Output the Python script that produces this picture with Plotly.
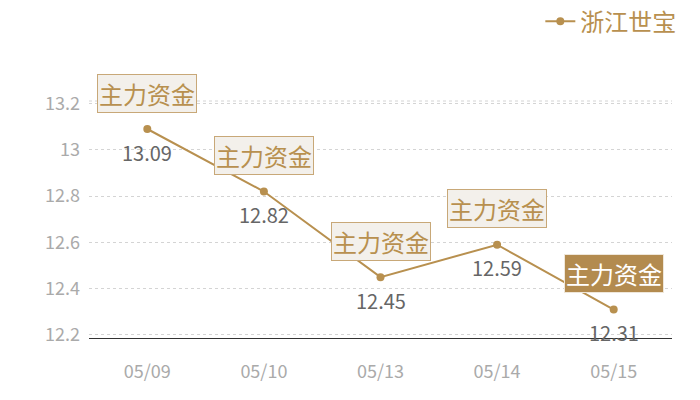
import plotly.graph_objects as go

# Closing prices for the last five trading days
dates = ['05/09', '05/10', '05/13', '05/14', '05/15']
prices = [13.09, 12.82, 12.45, 12.59, 12.31]
flag_text = ['主力资金', '主力资金', '主力资金', '主力资金', '主力资金']
tick_vals = [12.2, 12.4, 12.6, 12.8, 13, 13.2]
tick_text = ['12.2', '12.4', '12.6', '12.8', '13', '13.2']

gold = '#b8904f'
font_family = 'Noto Sans CJK SC'

fig = go.Figure()

fig.add_trace(go.Scatter(
    x=dates, y=prices, name='浙江世宝',
    mode='lines+markers',
    line=dict(color=gold, width=2),
    marker=dict(color=gold, size=8),
))

for i, (d, p) in enumerate(zip(dates, prices)):
    last = i == len(dates) - 1
    # value label under the point
    fig.add_annotation(
        x=d, y=p, text=str(p), showarrow=False, yshift=-23,
        font=dict(size=20, color='#666666', family=font_family),
    )
    # flag box above the point, the last one highlighted
    fig.add_annotation(
        x=d, y=p, text=flag_text[i],
        showarrow=False, yshift=36,
        font=dict(size=24, color='white' if last else gold, family=font_family),
        bgcolor='#b38b4f' if last else '#f3f0eb',
        bordercolor='#efe7da' if last else '#c8a878',
        borderwidth=1, borderpad=1,
    )

# the page adds an 8px body margin, so margins are shifted to compensate
fig.update_layout(
    width=700, height=400,
    margin=dict(l=81, r=36, t=93, b=70, autoexpand=False),
    plot_bgcolor='white', paper_bgcolor='white',
    font=dict(family=font_family),
    showlegend=True,
    legend=dict(x=1.016, y=1.43, xanchor='right', yanchor='top',
                font=dict(size=24, color=gold, family=font_family),
                bgcolor='rgba(0,0,0,0)'),
    xaxis=dict(
        type='category', range=[-0.5, 4.5],
        showgrid=False, showline=True, linecolor='#333333', linewidth=1,
        ticks='', tickfont=dict(size=18, color='#aaaaaa'),
        ticklabelstandoff=17,
    ),
    yaxis=dict(
        range=[12.187, 13.211],
        tickvals=tick_vals, ticktext=tick_text,
        showgrid=True, gridcolor='#d4d4d4', griddash='dot', gridwidth=1,
        zeroline=False, showline=False, ticks='',
        tickfont=dict(size=18, color='#aaaaaa'),
        ticklabelstandoff=8,
    ),
)

# Top border of the plot area (dashed, like the grid)
fig.add_shape(type='line', xref='paper', yref='paper', x0=0, x1=1, y0=1, y1=1,
              line=dict(color='#d4d4d4', width=1, dash='dot'))

fig.write_html("out.html")
